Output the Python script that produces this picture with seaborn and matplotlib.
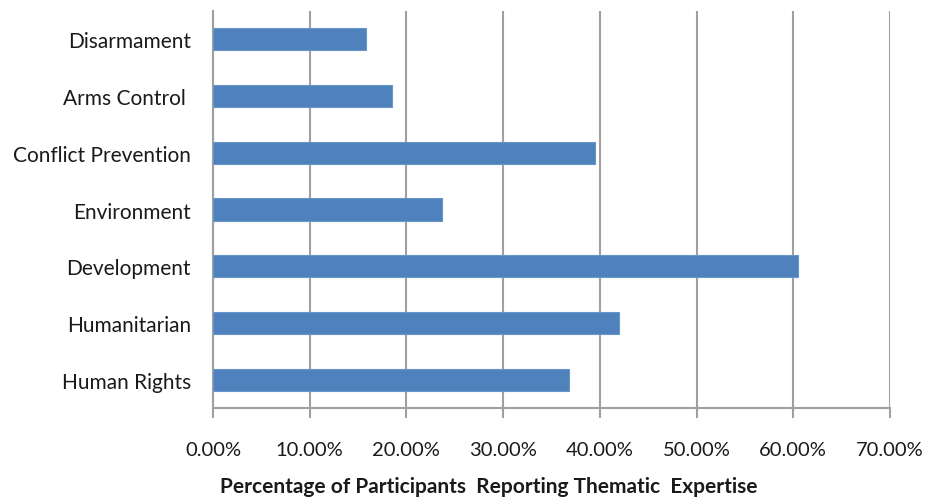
import matplotlib
matplotlib.use("Agg")
import matplotlib.pyplot as plt
import seaborn as sns
import pandas as pd
from matplotlib.ticker import FuncFormatter, MultipleLocator

categories = ["Disarmament", "Arms Control ", "Conflict Prevention", "Environment",
              "Development", "Humanitarian", "Human Rights"]
values = [15.8, 18.5, 39.5, 23.7, 60.5, 42.0, 36.8]
xlabel = "Percentage of Participants  Reporting Thematic  Expertise"

sns.set_style("white")
plt.rcParams['font.family'] = ['Lato', 'DejaVu Sans']

df = pd.DataFrame({"cat": categories, "val": values})

W, H = 929, 502
fig = plt.figure(figsize=(W / 100, H / 100), dpi=100)
left, right, top, bottom = 213, 890, 12, 409
ax = fig.add_axes([left / W, 1 - bottom / H, (right - left) / W, (bottom - top) / H])

sns.barplot(data=df, x="val", y="cat", ax=ax, color="#4F81BD", width=0.39,
            edgecolor="#6A95C8", linewidth=0.8, saturation=1, zorder=3)

ax.set_xlim(0, 70)
ax.xaxis.set_major_locator(MultipleLocator(10))
ax.xaxis.set_major_formatter(FuncFormatter(lambda v, p: f"{v:.2f}%"))
ax.grid(axis="x", color="#A0A0A0", linewidth=1.5, zorder=0)
ax.grid(axis="y", visible=False)
for s in ["top", "right"]:
    ax.spines[s].set_visible(False)
ax.spines["left"].set_color("#A0A0A0")
ax.spines["left"].set_linewidth(1.5)
ax.spines["bottom"].set_color("#A0A0A0")
ax.spines["bottom"].set_linewidth(1.5)

ax.tick_params(axis="x", which="major", length=7, width=1.5, color="#A0A0A0",
               direction="out", pad=17, labelsize=14.5, labelcolor="#1A1A1A", bottom=True)
ax.tick_params(axis="y", length=0, pad=16, labelsize=15, labelcolor="#1A1A1A")

ax.set_ylabel("")
ax.set_xlabel(xlabel, fontsize=15, fontweight="bold", color="#1A1A1A")
ax.xaxis.set_label_coords((489 - left) / (right - left), (bottom - 487) / (bottom - top))
ax.xaxis.label.set_va("center")

fig.savefig("out.png", dpi=100, facecolor="white")
